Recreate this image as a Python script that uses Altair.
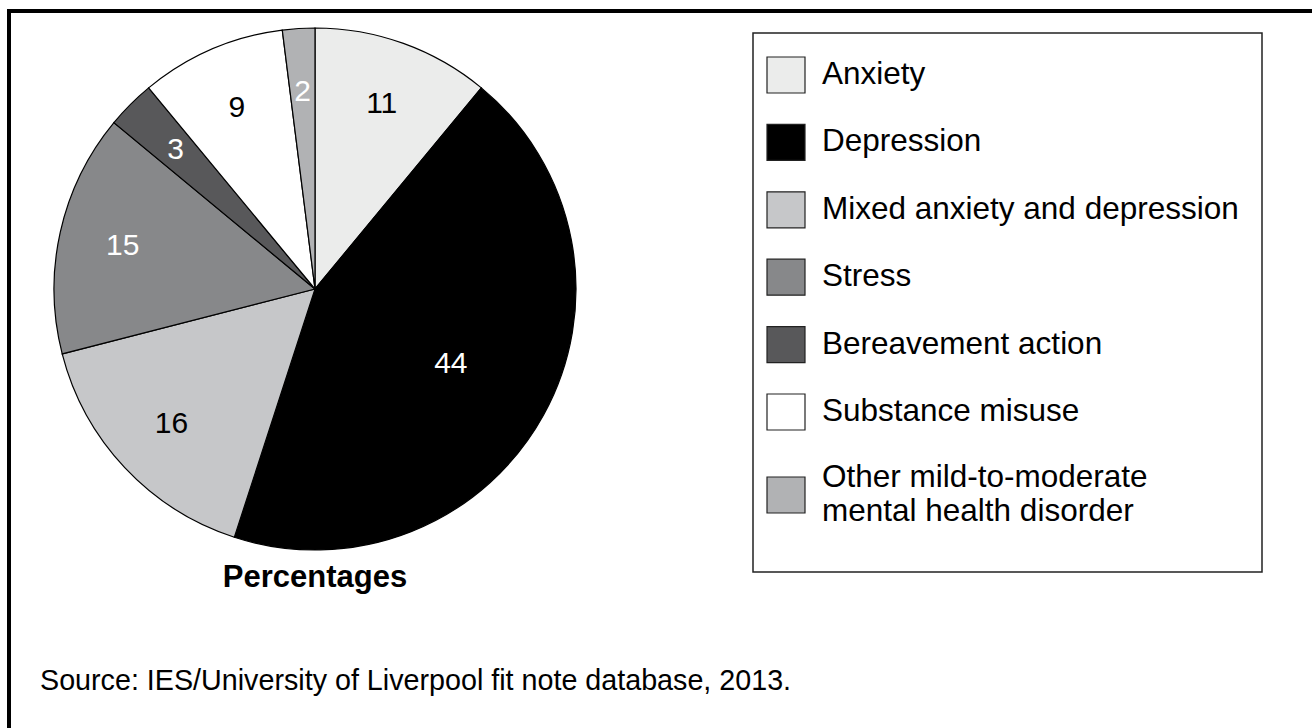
import altair as alt
import pandas as pd

categories = [
    "Anxiety",
    "Depression",
    "Mixed anxiety and depression",
    "Stress",
    "Bereavement action",
    "Substance misuse",
    "Other mild-to-moderate mental health disorder",
]
legend_labels = [
    "Anxiety",
    "Depression",
    "Mixed anxiety and depression",
    "Stress",
    "Bereavement action",
    "Substance misuse",
    "Other mild-to-moderate\nmental health disorder",
]
values = [11, 44, 16, 15, 3, 9, 2]
colors = ["#ebeceb", "#000000", "#c6c7c9", "#87888a", "#58585a", "#ffffff", "#b1b2b4"]
white_label_cats = ["Depression", "Stress", "Bereavement action",
                    "Other mild-to-moderate mental health disorder"]

df = pd.DataFrame({
    "cat": categories,
    "label": legend_labels,
    "value": values,
    "idx": list(range(len(categories))),
})

FONT = "Liberation Sans"
CX, CY, R = 315, 289, 261

color_scale = alt.Scale(domain=categories, range=colors)

base = alt.Chart(df)

pie = base.mark_arc(outerRadius=R, stroke="black", strokeWidth=1.2).encode(
    theta=alt.Theta("value:Q", stack=True),
    color=alt.Color("cat:N", scale=color_scale, legend=None),
    order=alt.Order("idx:Q"),
    x=alt.value(CX),
    y=alt.value(CY),
)

label_color = alt.condition(
    alt.FieldOneOfPredicate(field="cat", oneOf=white_label_cats),
    alt.value("white"),
    alt.value("black"),
)

labels_small = base.mark_text(radius=197, fontSize=30, font=FONT).encode(
    theta=alt.Theta("value:Q", stack=True),
    order=alt.Order("idx:Q"),
    text=alt.Text("value:Q"),
    color=label_color,
    x=alt.value(CX),
    y=alt.value(CY),
    opacity=alt.condition("datum.value < 40", alt.value(1), alt.value(0)),
)

labels_big = base.mark_text(radius=155, fontSize=30, font=FONT).encode(
    theta=alt.Theta("value:Q", stack=True),
    order=alt.Order("idx:Q"),
    text=alt.Text("value:Q"),
    color=label_color,
    x=alt.value(CX),
    y=alt.value(CY),
    opacity=alt.condition("datum.value >= 40", alt.value(1), alt.value(0)),
)

row_y = alt.Y("idx:Q", scale=alt.Scale(domain=[0, 5, 6], range=[75, 412, 495]),
              axis=None)

swatches = base.mark_rect(stroke="#222222", strokeWidth=1.2, width=38, height=36).encode(
    x=alt.value(786),
    y=row_y,
    color=alt.Color("cat:N", scale=color_scale, legend=None),
)

legend_text_single = base.transform_filter("datum.idx < 6").mark_text(
    align="left", baseline="middle", fontSize=31.5, font=FONT, color="black"
).encode(
    x=alt.value(822),
    y=row_y,
    text="label:N",
)

legend_text_multi = base.transform_filter("datum.idx == 6").mark_text(
    align="left", baseline="middle", fontSize=31.5, font=FONT, lineBreak="\n",
    lineHeight=34, dy=-17, color="black"
).encode(
    x=alt.value(822),
    y=row_y,
    text="label:N",
)

one = alt.Data(values=[{"a": 1}])

legend_box = alt.Chart(one).mark_rect(fill=None, stroke="#222222", strokeWidth=1.5).encode(
    x=alt.value(753), x2=alt.value(1262), y=alt.value(33), y2=alt.value(572)
)

frame = alt.Chart(one).mark_rect(fill=None, stroke="black", strokeWidth=4).encode(
    x=alt.value(9), x2=alt.value(1340), y=alt.value(11), y2=alt.value(760)
)

pct = alt.Chart(one).mark_text(fontSize=31, fontWeight="bold", font=FONT,
                               align="center", baseline="middle").encode(
    x=alt.value(CX), y=alt.value(578), text=alt.value("Percentages")
)

source = alt.Chart(one).mark_text(fontSize=28.7, font=FONT, align="left",
                                  baseline="middle").encode(
    x=alt.value(40), y=alt.value(681),
    text=alt.value("Source: IES/University of Liverpool fit note database, 2013.")
)

chart = alt.layer(
    pie, labels_small, labels_big, legend_box, swatches,
    legend_text_single, legend_text_multi, pct, source, frame
).properties(
    width=1312, height=728, padding=0, autosize=alt.AutoSizeParams(type="none"),
    background="white",
).configure_view(stroke=None)

chart.save("out.html", embed_options={"renderer": "svg", "actions": False})
